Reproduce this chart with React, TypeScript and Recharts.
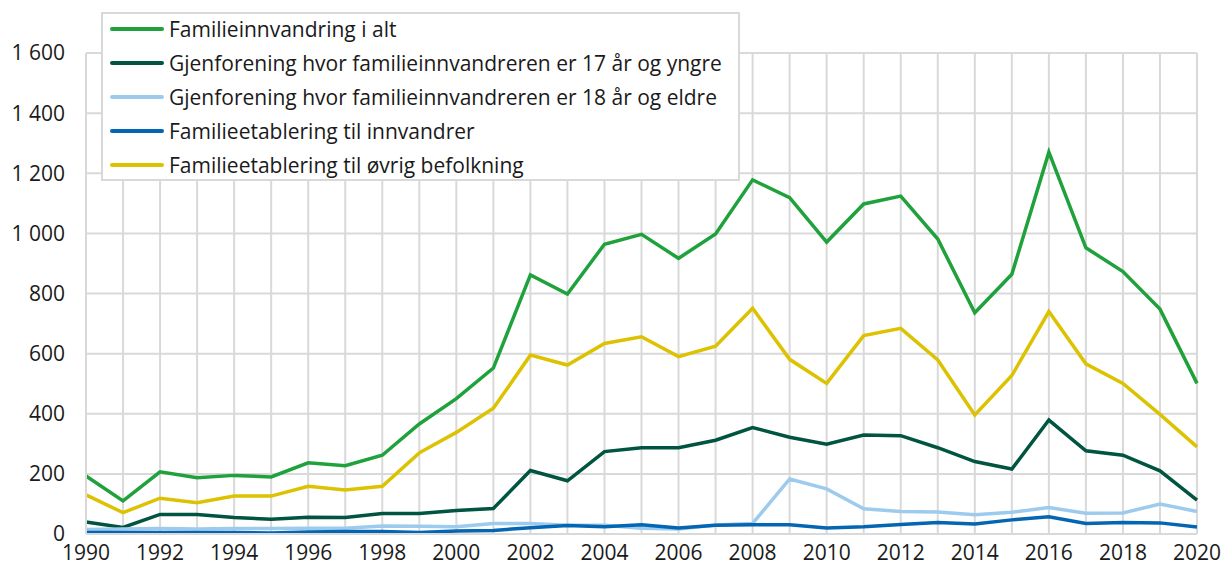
import React from 'react'
import { LineChart, Line, XAxis, YAxis, CartesianGrid } from 'recharts'

const years = [1990, 1991, 1992, 1993, 1994, 1995, 1996, 1997, 1998, 1999, 2000, 2001, 2002, 2003, 2004, 2005, 2006, 2007, 2008, 2009, 2010, 2011, 2012, 2013, 2014, 2015, 2016, 2017, 2018, 2019, 2020]

const totalt = [193, 110, 207, 187, 195, 190, 237, 227, 262, 366, 450, 552, 862, 798, 964, 997, 917, 998, 1178, 1119, 971, 1098, 1124, 981, 736, 864, 1270, 952, 873, 748, 501]
const under18 = [40, 22, 65, 65, 55, 49, 56, 55, 68, 68, 78, 85, 211, 177, 274, 287, 287, 312, 354, 322, 299, 329, 327, 287, 241, 216, 379, 277, 262, 210, 113]
const over18 = [15, 17, 18, 17, 18, 18, 19, 19, 27, 26, 24, 35, 35, 29, 29, 19, 17, 30, 35, 183, 150, 84, 75, 73, 64, 72, 88, 69, 70, 100, 75]
const tilInnv = [5, 5, 5, 5, 5, 3, 7, 8, 8, 5, 10, 12, 21, 28, 24, 31, 20, 29, 31, 31, 20, 24, 32, 38, 33, 47, 57, 35, 38, 37, 23]
const tilOvrig = [130, 71, 119, 104, 126, 126, 159, 146, 159, 270, 338, 418, 595, 562, 634, 656, 590, 625, 751, 581, 501, 660, 684, 579, 396, 527, 740, 566, 501, 398, 290]

const yTicks = [0, 200, 400, 600, 800, 1000, 1200, 1400, 1600]

const series = [
  { key: 'totalt', name: 'Familieinnvandring i alt', color: '#1fa13c' },
  { key: 'under18', name: 'Gjenforening hvor familieinnvandreren er 17 år og yngre', color: '#005440' },
  { key: 'over18', name: 'Gjenforening hvor familieinnvandreren er 18 år og eldre', color: '#9dcbee' },
  { key: 'tilInnv', name: 'Familieetablering til innvandrer', color: '#0466b3' },
  { key: 'tilOvrig', name: 'Familieetablering til øvrig befolkning', color: '#dcc200' },
]

const data = years.map((y, i) => ({
  year: y,
  totalt: totalt[i],
  under18: under18[i],
  over18: over18[i],
  tilInnv: tilInnv[i],
  tilOvrig: tilOvrig[i],
}))

const font = "'Open Sans', sans-serif"

const fmt = (v: number) => v >= 1000 ? `${Math.floor(v / 1000)}\u00a0${String(v % 1000).padStart(3, '0')}` : String(v)

function LegendBox() {
  return (
    <div style={{
      position: 'absolute', left: 101, top: 12,
      width: 639, height: 169, boxSizing: 'border-box', background: '#fff',
      border: '2px solid #d9d9d9', fontFamily: font, fontSize: 21, color: '#1a1a1a',
    }}>
      <div style={{ position: 'relative', top: -2 }}>
        {series.map(s => (
          <div key={s.key} style={{ display: 'flex', alignItems: 'center', height: 34 }}>
            <span style={{ display: 'inline-block', width: 54, height: 4, borderRadius: 2, background: s.color, marginLeft: 7, marginRight: 5, flexShrink: 0 }} />
            <span style={{ whiteSpace: 'nowrap' }}>{s.name}</span>
          </div>
        ))}
      </div>
    </div>
  )
}

export default function App() {
  return (
    <div style={{ position: 'absolute', left: 0, top: 0, width: 1223, height: 567 }}>
      <LineChart width={1223} height={567} data={data} margin={{ top: 53, right: 26, bottom: 0, left: 0 }}>
        <CartesianGrid stroke="#d9d9d9" strokeWidth={2} />
        <XAxis
          dataKey="year"
          type="number"
          domain={[1990, 2020]}
          ticks={years}
          interval={0}
          tickFormatter={(v: number) => (v % 2 === 0 ? String(v) : '')}
          height={33}
          axisLine={{ stroke: '#d9d9d9', strokeWidth: 2 }}
          tickLine={false}
          tickSize={6}
          tickMargin={5}
          tick={{ fill: '#1a1a1a', fontSize: 21, fontFamily: font }}
        />
        <YAxis
          domain={[0, 1600]}
          ticks={yTicks}
          width={86}
          axisLine={{ stroke: '#d9d9d9', strokeWidth: 2 }}
          tickLine={false}
          tickSize={6}
          tickMargin={15}
          tickFormatter={fmt}
          tick={{ fill: '#1a1a1a', fontSize: 21, fontFamily: font }}
        />
        {series.map(s => (
          <Line
            key={s.key}
            dataKey={s.key}
            name={s.name}
            stroke={s.color}
            strokeWidth={3.5}
            dot={false}
            type="linear"
            isAnimationActive={false}
          />
        ))}
      </LineChart>
      <LegendBox />
    </div>
  )
}
